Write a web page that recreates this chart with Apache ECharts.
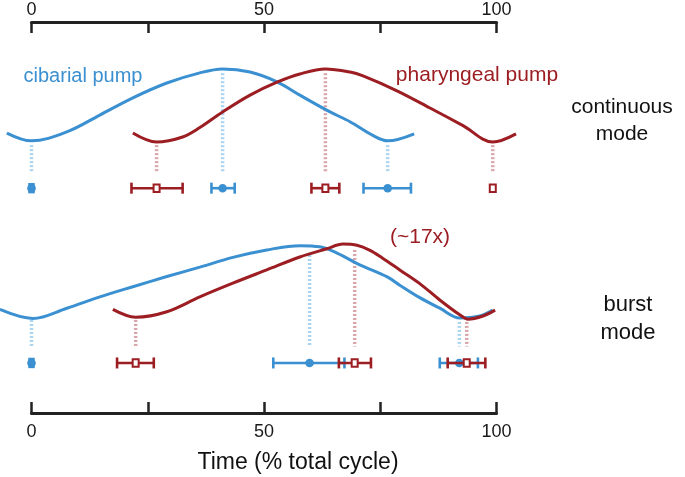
<!DOCTYPE html>
<html><head><meta charset="utf-8">
<script src="https://cdn.jsdelivr.net/npm/echarts@6/dist/echarts.min.js"></script>
<style>html,body{margin:0;padding:0;background:#fff}#c{width:685px;height:477px}</style>
</head><body><div id="c"></div>
<script>
// ---- data (x = % total cycle, y = relative height in the figure) ----
const tickLabels = [0, 50, 100];

const contCibarial = [[-5.3,71.6],[0,69.6],[7.6,71.9],[14.7,76.2],[21.8,80.6],[29.1,84.4],[36.2,87.0],[41.1,88.0],[47.0,87.2],[52.8,84.7],[57.7,81.3],[64.2,77.0],[68.5,74.5],[73.4,71.0],[76.6,69.6],[82.3,71.4]];
const contPharyngeal = [[21.8,71.6],[26.9,69.3],[32.5,70.6],[36.2,73.0],[41.1,77.0],[47.0,81.3],[52.8,84.6],[57.7,86.7],[63.2,88.0],[68.5,87.2],[71.3,86.2],[78.6,82.4],[85.7,78.0],[92.8,73.5],[99.2,69.3],[104.2,71.4]];
const burstCibarial = [[-6.8,26.5],[0.3,24.2],[7.6,26.8],[14.7,29.7],[21.8,32.3],[29.1,34.9],[36.2,37.3],[43.3,39.8],[50.6,41.7],[57.7,42.8],[62.0,42.5],[65.7,40.9],[70.6,37.9],[76.5,34.8],[79.2,32.7],[83.5,29.5],[87.8,26.8],[92.1,24.3],[96.4,24.8],[99.2,26.3]];
const burstPharyngeal = [[17.5,26.5],[22.4,24.5],[29.1,25.9],[36.2,29.7],[43.3,33.2],[50.6,36.6],[57.7,39.9],[63.5,42.0],[67.0,43.2],[70.0,42.9],[72.8,41.6],[75.5,39.6],[79.2,36.6],[83.5,33.1],[87.8,28.9],[92.1,25.1],[93.9,24.0],[97.1,24.8],[99.7,26.3]];

// phase markers: [mean, low, high]
const contCibMarkers = [[0,0,0],[41.1,38.7,43.7],[76.6,71.4,81.6]];
const contPhaMarkers = [[26.9,21.5,32.5],[63.2,60.2,66.2],[99.2,99.2,99.2]];
const burstCibMarkers = [[0,0,0],[59.8,52.0,67.3],[92.0,87.8,96.0]];
const burstPhaMarkers = [[22.4,18.4,26.3],[69.5,66.1,73.0],[93.6,89.5,97.6]];
const contMarkerLevel = 57.5;
const burstMarkerLevel = 12.8;

// dotted drop lines: [x, top, bottom]
const contCibDrops = [[0,68.5,61.6],[41.1,86.9,61.6],[76.6,68.5,61.6]];
const contPhaDrops = [[26.9,68.5,61.6],[63.2,86.9,61.6],[99.2,68.5,61.6]];
const burstCibDrops = [[0,23.8,17.0],[59.8,40.4,17.0],[92.0,23.3,17.0]];
const burstPhaDrops = [[22.4,23.8,17.0],[69.5,41.7,17.0],[93.6,23.3,17.0]];

// ---- styles / layout ----
const BLUE = '#3a90d0', RED = '#9c1d22';
const LBLUE = '#a9d4ef', LRED = '#d9a4a7';
const FONT = "'Liberation Sans', Arial, Helvetica, sans-serif";
const AX = '#222';
const W = 685, GL = 31.5, GR = 188.5;
const PX_PER = (W - GL - GR) / 100;           // pixels per % on the visible axes
const DATA_MIN = -GL / PX_PER;                // full-width data grid sharing that scale
const DATA_MAX = DATA_MIN + W / PX_PER;
const DATA_X = 2, DATA_Y = 1;

function lineSeries(data, color) {
  return { type: 'line', data, smooth: 0.35, symbol: 'none', clip: false,
    xAxisIndex: DATA_X, yAxisIndex: DATA_Y,
    lineStyle: { color, width: 3 }, z: 3, silent: true };
}
function dropSeries(data, color) {
  return { type: 'custom', data, clip: false, z: 1, silent: true,
    xAxisIndex: DATA_X, yAxisIndex: DATA_Y,
    encode: { x: 0, y: [1, 2] },
    renderItem(params, api) {
      const a = api.coord([api.value(0), api.value(1)]);
      const b = api.coord([api.value(0), api.value(2)]);
      return { type: 'line', shape: { x1: a[0], y1: a[1], x2: b[0], y2: b[1] },
        style: { stroke: color, lineWidth: 3.5, lineDash: [2, 2] } };
    } };
}
function markerSeries(list, level, color, kind) {
  const data = list.map(m => [m[0], m[1], m[2], level]);
  return { type: 'custom', data, clip: false, z: 5, silent: true,
    xAxisIndex: DATA_X, yAxisIndex: DATA_Y,
    encode: { x: [0, 1, 2], y: 3 },
    renderItem(params, api) {
      const lv = api.value(3);
      const c = api.coord([api.value(0), lv]);
      const l = api.coord([api.value(1), lv]);
      const h = api.coord([api.value(2), lv]);
      const ch = [];
      const st = { stroke: color, lineWidth: 2.6 };
      if (h[0] - l[0] > 0.5) {
        ch.push({ type: 'line', shape: { x1: l[0], y1: c[1], x2: h[0], y2: c[1] }, style: st });
        ch.push({ type: 'line', shape: { x1: l[0], y1: c[1] - 5.5, x2: l[0], y2: c[1] + 5.5 }, style: st });
        ch.push({ type: 'line', shape: { x1: h[0], y1: c[1] - 5.5, x2: h[0], y2: c[1] + 5.5 }, style: st });
      } else if (kind === 'dot') {
        ch.push({ type: 'line', shape: { x1: c[0], y1: c[1] - 5.2, x2: c[0], y2: c[1] + 5.2 }, style: { stroke: color, lineWidth: 6.5 } });
      }
      if (kind === 'dot') {
        ch.push({ type: 'circle', shape: { cx: c[0], cy: c[1], r: 4.3 }, style: { fill: color } });
      } else {
        ch.push({ type: 'rect', shape: { x: c[0] - 3, y: c[1] - 3.8, width: 6, height: 7.6 },
          style: { fill: '#fff', stroke: color, lineWidth: 2 } });
      }
      return { type: 'group', children: ch };
    } };
}

const xAxisBase = {
  type: 'value', min: 0, max: 100, interval: 25, gridIndex: 0,
  splitLine: { show: false },
  axisLine: { show: true, onZero: false, lineStyle: { color: AX, width: 3 } },
  axisTick: { show: true, inside: true, length: 11, lineStyle: { color: AX, width: 2.5 } },
  axisLabel: { fontSize: 18, color: '#1a1a1a', fontFamily: FONT,
    formatter: v => tickLabels.includes(v) ? String(v) : '' }
};

const chart = echarts.init(document.getElementById('c'), null, { renderer: 'canvas' });
chart.setOption({
  animation: false,
  backgroundColor: '#fff',
  grid: [
    { left: GL, right: GR, top: 22, bottom: 64 },
    { left: 0, right: 0, top: 22, bottom: 64 }
  ],
  xAxis: [
    Object.assign({}, xAxisBase, { position: 'top', axisLabel: Object.assign({}, xAxisBase.axisLabel, { margin: 3 }) }),
    Object.assign({}, xAxisBase, { position: 'bottom', axisLabel: Object.assign({}, xAxisBase.axisLabel, { margin: 10 }) }),
    { type: 'value', gridIndex: 1, min: DATA_MIN, max: DATA_MAX, show: false }
  ],
  yAxis: [
    { type: 'value', gridIndex: 0, min: 0, max: 100, show: false },
    { type: 'value', gridIndex: 1, min: 0, max: 100, show: false }
  ],
  series: [
    dropSeries(contCibDrops, LBLUE), dropSeries(contPhaDrops, LRED),
    dropSeries(burstCibDrops, LBLUE), dropSeries(burstPhaDrops, LRED),
    lineSeries(contCibarial, BLUE), lineSeries(contPharyngeal, RED),
    lineSeries(burstCibarial, BLUE), lineSeries(burstPharyngeal, RED),
    markerSeries(contCibMarkers, contMarkerLevel, BLUE, 'dot'),
    markerSeries(contPhaMarkers, contMarkerLevel, RED, 'square'),
    markerSeries(burstCibMarkers, burstMarkerLevel, BLUE, 'dot'),
    markerSeries(burstPhaMarkers, burstMarkerLevel, RED, 'square')
  ],
  graphic: [
    { type: 'text', x: 83, y: 76, z: 10, style: { text: 'cibarial pump', fill: BLUE, font: '20px ' + FONT, textAlign: 'center', textVerticalAlign: 'middle' } },
    { type: 'text', x: 477, y: 75, z: 10, style: { text: 'pharyngeal pump', fill: RED, font: '21px ' + FONT, textAlign: 'center', textVerticalAlign: 'middle' } },
    { type: 'text', x: 420, y: 237, z: 10, style: { text: '(~17x)', fill: RED, font: '21px ' + FONT, textAlign: 'center', textVerticalAlign: 'middle' } },
    { type: 'text', x: 622, y: 120.5, z: 10, style: { text: 'continuous\nmode', fill: '#111', font: '21px ' + FONT, lineHeight: 27, textAlign: 'center', textVerticalAlign: 'middle' } },
    { type: 'text', x: 628, y: 319, z: 10, style: { text: 'burst\nmode', fill: '#111', font: '22px ' + FONT, lineHeight: 28, textAlign: 'center', textVerticalAlign: 'middle' } },
    { type: 'text', x: 298, y: 463, z: 10, style: { text: 'Time (% total cycle)', fill: '#111', font: '23px ' + FONT, textAlign: 'center', textVerticalAlign: 'middle' } }
  ]
});
</script>
</body></html>
